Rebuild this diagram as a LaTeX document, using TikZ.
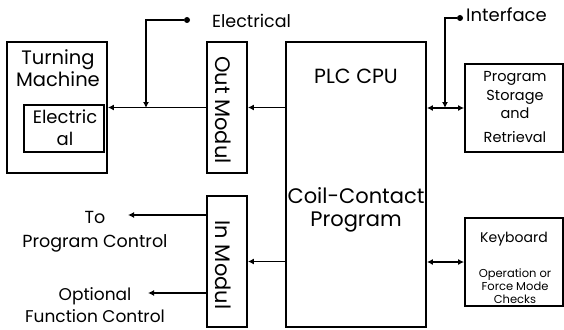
\documentclass[tikz,border=0pt]{standalone}
\usepackage{fontspec}
\setmainfont{Poppins}
\usetikzlibrary{positioning, arrows.meta, calc}
\newcommand{\fsz}[2]{\fontsize{#1}{#2}\selectfont}

\begin{document}
\begin{tikzpicture}[
            x=1pt, y=-1pt,
            box/.style={rectangle, draw, line width=1.8pt, inner sep=0pt},
            lbl/.style={inner sep=0pt, align=center},
            dot/.style={circle, fill, inner sep=0pt, minimum size=6pt},
            arrow/.style={-{Latex[length=6pt,width=6pt]}, line width=1.8pt},
            darrow/.style={{Latex[length=6pt,width=6pt]}-{Latex[length=6pt,width=6pt]}, line width=1.8pt},
        ]
            \useasboundingbox (0,0) rectangle (564,329);

            % Boxes
            \node[box, minimum width=100pt, minimum height=131pt] (tm)    at (57,107.5)  {};
            \node[box, minimum width=80pt,  minimum height=47pt]  (tmel)  at (64,128.5)  {};
            \node[box, minimum width=40pt,  minimum height=131pt] (outm)  at (227,107.5) {};
            \node[box, minimum width=40pt,  minimum height=131pt] (inm)   at (227,261.5) {};
            \node[box, minimum width=140pt, minimum height=285pt] (cpu)   at (356,184.5) {};
            \node[box, minimum width=98pt,  minimum height=88pt]  (store) at (514,108)   {};
            \node[box, minimum width=98pt,  minimum height=88pt]  (kbd)   at (514,262)   {};

            % Box texts
            \node[lbl, font=\fsz{19.5}{22}, anchor=north] (tmtxt) at (58,49) {Turning\\Machine};
            \node[lbl, font=\fsz{18}{22}, anchor=north] (eltxt) at (65,110) {Electric\\al};
            \node[lbl, font=\fsz{21}{24}, rotate=-90] (outtxt) at (223,110) {Out Modul};
            \node[lbl, font=\fsz{21}{24}, rotate=-90] (intxt)  at (223,265) {In Modul};
            \node[lbl, font=\fsz{20.5}{24}, anchor=north] (cputxt) at (356,68.5) {PLC CPU};
            \node[lbl, font=\fsz{21}{23}, anchor=north] (progtxt) at (356,187) {Coil-Contact\\Program};
            \node[lbl, font=\fsz{14.5}{18.5}, anchor=north] (stotxt) at (515,71.5) {Program\\Storage\\and\\[5pt]Retrieval};
            \node[lbl, font=\fsz{14}{16}, anchor=north] (kbdtxt) at (514,232) {Keyboard};
            \node[lbl, font=\fsz{11.5}{13}, anchor=north] (chktxt) at (515,268.5) {Operation or\\Force Mode\\Checks};

            % Feed points
            \node[dot] (eldot) at (187,20) {};
            \node[dot] (ifdot) at (460,18) {};
            \node[lbl, font=\fsz{17.5}{20}, anchor=base west] (eltag) at (212,28) {Electrical};
            \node[lbl, font=\fsz{18}{20}, anchor=base west] (iftag) at (466,22) {Interface};
            \coordinate (eltap) at (146,108);
            \coordinate (iftap) at (445,108);

            % Outputs of In Modul
            \coordinate (toend) at (128,215);
            \coordinate (opend) at (148,293);
            \node[lbl, font=\fsz{17.5}{24}, anchor=north] (totxt) at (95,211) {To\\Program Control};
            \node[lbl, font=\fsz{17}{22}, anchor=north] (optxt) at (95,287.5) {Optional\\Function Control};

            \draw[arrow] (cpu.west |- outm.east) -- (outm.east);
            \draw[arrow] (outm.west) -- (tm.east);
            \draw[arrow] (eldot) -| (eltap);
            \draw[arrow] (ifdot) -| (iftap);
            \draw[darrow] (cpu.east |- store.west) -- (store.west);
            \draw[darrow] (cpu.east |- kbd.west) -- (kbd.west);
            \draw[arrow] (cpu.west |- inm.east) -- (inm.east);
            \draw[arrow] (toend -| inm.west) -- (toend);
            \draw[arrow] (opend -| inm.west) -- (opend);
        \end{tikzpicture}
\end{document}
